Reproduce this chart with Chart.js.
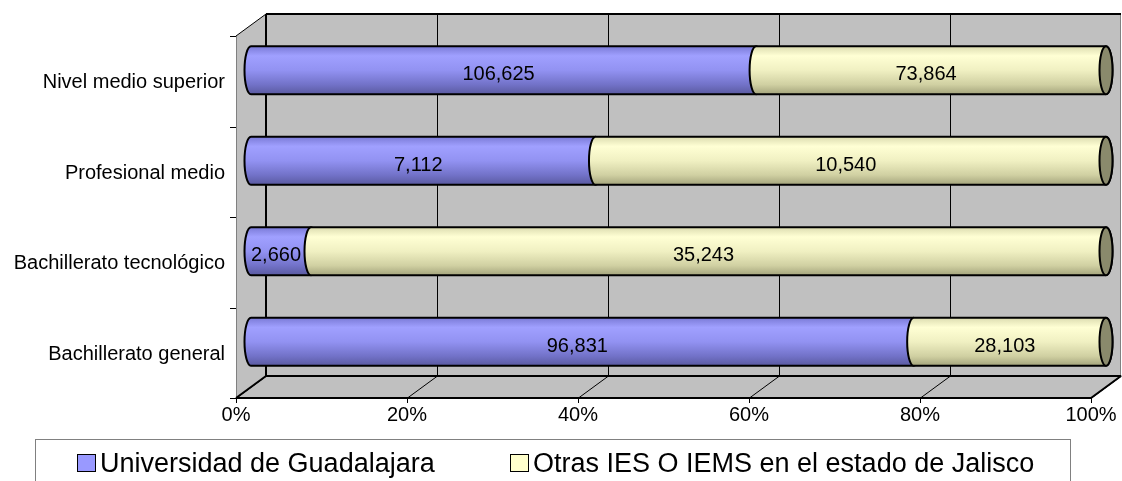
<!DOCTYPE html>
<html>
<head>
<meta charset="utf-8">
<script src="https://cdn.jsdelivr.net/npm/chart.js@4"></script>
<style>
  body { margin: 0; background: #fff; }
  #wrap { width: 1122px; height: 481px; }
</style>
</head>
<body>
<div id="wrap"><canvas id="chart" width="1122" height="481"></canvas></div>
<script>
const categories = ['Nivel medio superior', 'Profesional medio', 'Bachillerato tecnológico', 'Bachillerato general'];
const udgValues = [106625, 7112, 2660, 96831];
const otrasValues = [73864, 10540, 35243, 28103];
const seriesNames = ['Universidad de Guadalajara', 'Otras IES O IEMS en el estado de Jalisco'];
const tickValues = [0, 20, 40, 60, 80, 100];

const FONT = '"Liberation Sans", Arial, sans-serif';
// depth offsets of the fake 3d box (bar plane sits in the middle)
const DX = 15, DY = 11;

const totals = udgValues.map((v, i) => v + otrasValues[i]);
const udgPct = udgValues.map((v, i) => v / totals[i] * 100);
const otrasPct = otrasValues.map((v, i) => v / totals[i] * 100);
const rawValues = [udgValues, otrasValues];

const gradStops = [
    [[0, '#7a7ad6'], [0.2, '#a0a0ff'], [0.5, '#9292f2'], [0.8, '#7272c8'], [1, '#5a5aa0']],
    [[0, '#dcdcb0'], [0.2, '#ffffd4'], [0.5, '#f0f0c2'], [0.8, '#d0d0a2'], [1, '#a4a47c']]
];

const box3d = {
    id: 'box3d',
    beforeDatasetsDraw(chart) {
        const ctx = chart.ctx;
        const a = chart.chartArea;
        const xs = chart.scales.x;
        const x0 = xs.getPixelForValue(0), x1 = xs.getPixelForValue(100);
        const bTop = a.top - DY, bBot = a.bottom - DY, fTop = a.top + DY, fBot = a.bottom + DY;
        ctx.save();
        ctx.fillStyle = '#c0c0c0';
        // back wall
        ctx.fillRect(x0 + DX, bTop, x1 - x0, bBot - bTop);
        // side wall
        ctx.beginPath();
        ctx.moveTo(x0 - DX, fTop); ctx.lineTo(x0 + DX, bTop); ctx.lineTo(x0 + DX, bBot); ctx.lineTo(x0 - DX, fBot);
        ctx.closePath(); ctx.fill();
        ctx.strokeStyle = '#808080'; ctx.lineWidth = 1;
        ctx.beginPath(); ctx.moveTo(x0 - DX + 0.5, fTop); ctx.lineTo(x0 - DX + 0.5, fBot); ctx.stroke();
        ctx.beginPath(); ctx.moveTo(x1 + DX - 0.5, bTop); ctx.lineTo(x1 + DX - 0.5, bBot); ctx.stroke();
        // floor
        ctx.beginPath();
        ctx.moveTo(x0 + DX, bBot); ctx.lineTo(x1 + DX, bBot); ctx.lineTo(x1 - DX, fBot); ctx.lineTo(x0 - DX, fBot);
        ctx.closePath(); ctx.fill();
        // grid lines on back wall and floor
        ctx.strokeStyle = '#000'; ctx.lineWidth = 1;
        tickValues.forEach(v => {
            const px = Math.round(xs.getPixelForValue(v)) + 0.5;
            if (v > 0 && v < 100) {
                ctx.beginPath(); ctx.moveTo(px + DX, bTop); ctx.lineTo(px + DX, bBot); ctx.stroke();
            }
            ctx.beginPath(); ctx.moveTo(px + DX, bBot); ctx.lineTo(px - DX, fBot); ctx.stroke();
            // tick marks
            ctx.beginPath(); ctx.moveTo(px - DX, fBot); ctx.lineTo(px - DX, fBot + 5); ctx.stroke();
        });
        ctx.beginPath(); ctx.moveTo(x0 - DX, fTop); ctx.lineTo(x0 + DX, bTop); ctx.stroke();
        // heavy edges
        ctx.lineWidth = 2;
        ctx.beginPath(); ctx.moveTo(x0 + DX, bTop); ctx.lineTo(x1 + DX, bTop); ctx.stroke();
        ctx.beginPath(); ctx.moveTo(x0 + DX, bTop); ctx.lineTo(x0 + DX, bBot); ctx.lineTo(x1 + DX, bBot); ctx.stroke();
        ctx.beginPath(); ctx.moveTo(x0 - DX, fBot); ctx.lineTo(x1 - DX, fBot); ctx.lineTo(x1 + DX, bBot); ctx.stroke();
        ctx.beginPath(); ctx.moveTo(x0 - DX, fBot); ctx.lineTo(x0 + DX, bBot); ctx.stroke();
        // category ticks on side wall
        const ys = chart.scales.y;
        const step = ys.getPixelForValue(1) - ys.getPixelForValue(0);
        ctx.lineWidth = 1;
        for (let i = 0; i <= categories.length; i++) {
            const py = Math.round(ys.getPixelForValue(i) - step / 2 + DY) + 0.5;
            ctx.beginPath(); ctx.moveTo(x0 - DX - 6, py); ctx.lineTo(x0 - DX, py); ctx.stroke();
        }
        // text on axes
        ctx.fillStyle = '#000';
        ctx.font = '20px ' + FONT;
        ctx.textAlign = 'right'; ctx.textBaseline = 'alphabetic';
        categories.forEach((c, i) => {
            ctx.fillText(c, x0 - DX - 11, ys.getPixelForValue(i) + DY + 7);
        });
        ctx.textAlign = 'center';
        tickValues.forEach(v => {
            ctx.fillText(v + '%', xs.getPixelForValue(v) - DX, fBot + 23);
        });

        // cylinders
        chart.data.datasets.forEach((ds, di) => {
            const meta = chart.getDatasetMeta(di);
            meta.data.forEach((bar, i) => {
                const left = Math.min(bar.base, bar.x), right = Math.max(bar.base, bar.x);
                const top = bar.y - bar.height / 2, bot = bar.y + bar.height / 2;
                const ry = bar.height / 2, rx = 6.5;
                const g = ctx.createLinearGradient(0, top, 0, bot);
                gradStops[di].forEach(s => g.addColorStop(s[0], s[1]));
                ctx.beginPath();
                ctx.moveTo(left, top);
                ctx.lineTo(right, top);
                ctx.ellipse(right, bar.y, rx, ry, 0, -Math.PI / 2, Math.PI / 2, false);
                ctx.lineTo(left, bot);
                ctx.ellipse(left, bar.y, rx, ry, 0, Math.PI / 2, Math.PI * 1.5, false);
                ctx.closePath();
                ctx.fillStyle = g; ctx.fill();
                ctx.lineWidth = 2; ctx.strokeStyle = '#000'; ctx.stroke();
                if (di === chart.data.datasets.length - 1) {
                    ctx.beginPath();
                    ctx.ellipse(right, bar.y, rx, ry, 0, 0, Math.PI * 2);
                    ctx.fillStyle = '#8a8a6c'; ctx.fill(); ctx.stroke();
                }
            });
        });
        // value labels
        ctx.fillStyle = '#000'; ctx.font = '20px ' + FONT;
        ctx.textAlign = 'center'; ctx.textBaseline = 'alphabetic';
        chart.data.datasets.forEach((ds, di) => {
            chart.getDatasetMeta(di).data.forEach((bar, i) => {
                const cx = (bar.base + bar.x) / 2 - 5;
                ctx.fillText(rawValues[di][i].toLocaleString('en-US'), cx, bar.y + 10);
            });
        });

        // legend
        ctx.lineWidth = 1; ctx.strokeStyle = '#808080';
        ctx.strokeRect(35.5, 439.5, 1035, 60);
        ctx.font = '27px ' + FONT; ctx.textAlign = 'left';
        const legX = [77, 510];
        chart.data.datasets.forEach((ds, di) => {
            ctx.fillStyle = ds.backgroundColor;
            ctx.fillRect(legX[di], 454, 19, 18);
            ctx.strokeStyle = '#000';
            ctx.strokeRect(legX[di] + 0.5, 454.5, 18, 17);
            ctx.fillStyle = '#000';
            ctx.fillText(ds.label, legX[di] + 23, 472);
        });
        ctx.restore();
        return false;
    }
};

new Chart(document.getElementById('chart'), {
    type: 'bar',
    data: {
        labels: categories,
        datasets: [
            { label: seriesNames[0], data: udgPct, backgroundColor: '#9999ff' },
            { label: seriesNames[1], data: otrasPct, backgroundColor: '#ffffcc' }
        ]
    },
    options: {
        indexAxis: 'y',
        responsive: false,
        animation: false,
        events: [],
        layout: { padding: { left: 251, right: 16, top: 25, bottom: 94 } },
        datasets: { bar: { categoryPercentage: 1, barPercentage: 0.53 } },
        scales: {
            x: { stacked: true, min: 0, max: 100, display: false },
            y: { stacked: true, display: false }
        },
        plugins: { legend: { display: false }, tooltip: { enabled: false } }
    },
    plugins: [box3d]
});
</script>
</body>
</html>
